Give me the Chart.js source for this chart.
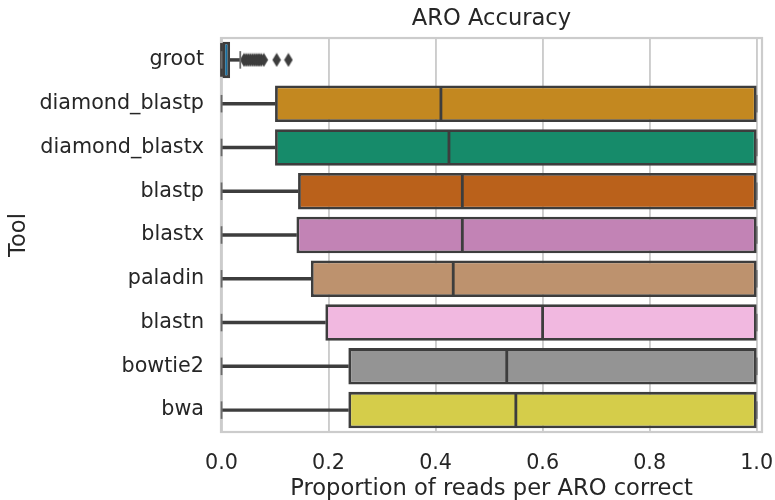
<!DOCTYPE html>
<html>
<head>
<meta charset="utf-8">
<script src="https://cdn.jsdelivr.net/npm/chart.js@4.4.1/dist/chart.umd.min.js"></script>
<style>
  html, body { margin: 0; padding: 0; background: #fff; }
  #wrap { width: 775px; height: 500px; }
</style>
</head>
<body>
<div id="wrap"><canvas id="chart" width="775" height="500"></canvas></div>
<script>
// box statistics per tool
const tools = ["groot", "diamond_blastp", "diamond_blastx", "blastp", "blastx", "paladin", "blastn", "bowtie2", "bwa"];
const whiskerLow = [0, 0, 0, 0, 0, 0, 0, 0, 0];
const q1 = [0, 0.100, 0.100, 0.143, 0.140, 0.167, 0.194, 0.237, 0.237];
const medians = [0, 0.410, 0.425, 0.450, 0.450, 0.433, 0.600, 0.533, 0.550];
const q3 = [0.016, 1, 1, 1, 1, 1, 1, 1, 1];
const whiskerHigh = [0.035, 1, 1, 1, 1, 1, 1, 1, 1];
const grootOutliers = [0.042, 0.046, 0.050, 0.054, 0.058, 0.062, 0.066, 0.070, 0.074, 0.079, 0.103, 0.125];
const xTicks = [0, 0.2, 0.4, 0.6, 0.8, 1.0];

const boxColors = ["#176d9c", "#c38820", "#168b6a", "#ba611b", "#c283b5", "#bd926e", "#f1b8e0", "#949494", "#d5cd4a"];
const lineColor = "#3d3d3d";
const textColor = "#262626";
const font = "'DejaVu Sans', sans-serif";

// thin diamond marker like matplotlib 'd'
function thinDiamond() {
    const c = document.createElement("canvas");
    c.width = 10;
    c.height = 15;
    const g = c.getContext("2d");
    g.fillStyle = lineColor;
    g.beginPath();
    g.moveTo(5, 0.5);
    g.lineTo(9.3, 7.5);
    g.lineTo(5, 14.5);
    g.lineTo(0.7, 7.5);
    g.closePath();
    g.fill();
    return c;
}

// frame round the plot area
const framePlugin = {
    id: "frame",
    beforeDatasetsDraw(chart) {
        const a = chart.chartArea;
        const ctx = chart.ctx;
        ctx.save();
        ctx.strokeStyle = "#cccccc";
        ctx.lineWidth = 2.2;
        ctx.strokeRect(a.left, a.top, a.right - a.left, a.bottom - a.top);
        ctx.restore();
    }
};

// medians and whisker caps
const boxPartsPlugin = {
    id: "boxParts",
    afterDatasetsDraw(chart) {
        const ctx = chart.ctx;
        const xs = chart.scales.x;
        const ys = chart.scales.y;
        const boxes = chart.getDatasetMeta(2).data;
        const step = ys.getPixelForValue(1) - ys.getPixelForValue(0);
        ctx.save();
        tools.forEach((t, i) => {
            const y = ys.getPixelForValue(i);
            const h = boxes[i].height / 2 - 1.4;
            ctx.strokeStyle = lineColor;
            ctx.lineWidth = 2.8;
            const mx = xs.getPixelForValue(medians[i]);
            ctx.beginPath();
            ctx.moveTo(mx, y - h);
            ctx.lineTo(mx, y + h);
            ctx.stroke();

            ctx.strokeStyle = "#6b6b6b";
            ctx.lineWidth = 1.8;
            [whiskerLow[i], whiskerHigh[i]].forEach(v => {
                const cx = xs.getPixelForValue(v);
                ctx.beginPath();
                ctx.moveTo(cx, y - step * 0.2);
                ctx.lineTo(cx, y + step * 0.2);
                ctx.stroke();
            });
        });
        ctx.restore();
    }
};

new Chart(document.getElementById("chart"), {
    type: "bar",
    data: {
        labels: tools,
        datasets: [
            {
                label: "lower whisker",
                data: whiskerLow.map((v, i) => [v, q1[i]]),
                backgroundColor: lineColor,
                borderWidth: 0,
                barThickness: 2.8,
                grouped: false,
                order: 3
            },
            {
                label: "upper whisker",
                data: q3.map((v, i) => [v, whiskerHigh[i]]),
                backgroundColor: lineColor,
                borderWidth: 0,
                barThickness: 2.8,
                grouped: false,
                order: 3
            },
            {
                label: "box",
                data: q1.map((v, i) => [v, q3[i]]),
                backgroundColor: boxColors,
                borderColor: lineColor,
                borderWidth: 2.8,
                borderSkipped: false,
                barPercentage: 0.834,
                categoryPercentage: 1,
                grouped: false,
                order: 2
            },
            {
                type: "scatter",
                label: "outliers",
                data: grootOutliers.map(v => ({ x: v, y: "groot" })),
                pointStyle: thinDiamond(),
                pointRadius: 5,
                order: 1
            }
        ]
    },
    options: {
        indexAxis: "y",
        responsive: false,
        animation: false,
        layout: { padding: { left: 0, right: 13, top: 0, bottom: 0 } },
        plugins: {
            legend: { display: false },
            tooltip: { enabled: false },
            title: {
                display: true,
                fullSize: false,
                text: "ARO Accuracy",
                color: textColor,
                font: { family: font, size: 22.6, weight: "normal" },
                padding: { top: 5.5, bottom: 5.4 }
            }
        },
        scales: {
            x: {
                type: "linear",
                min: -0.001,
                max: 1.01,
                afterBuildTicks(scale) {
                    scale.ticks = xTicks.map(v => ({ value: v }));
                },
                afterFit(scale) {
                    scale.height = 68;
                    scale.paddingLeft = 0;
                    scale.paddingRight = 0;
                },
                ticks: {
                    color: textColor,
                    font: { family: font, size: 20.7 },
                    padding: 19,
                    maxRotation: 0,
                    callback: v => v.toFixed(1)
                },
                grid: { color: "#cccccc", lineWidth: 1.9, drawTicks: false },
                border: { display: false },
                title: {
                    display: true,
                    text: "Proportion of reads per ARO correct",
                    color: textColor,
                    font: { family: font, size: 22.6 },
                    padding: { top: 0, bottom: -2.5 }
                }
            },
            y: {
                type: "category",
                afterFit(scale) {
                    scale.width = 221;
                },
                ticks: {
                    color: textColor,
                    font: { family: font, size: 20.7 },
                    padding: 17
                },
                grid: { display: false, drawTicks: false },
                border: { display: false },
                title: {
                    display: true,
                    text: "Tool",
                    color: textColor,
                    font: { family: font, size: 22.6 },
                    padding: { top: 6, bottom: 0 }
                }
            }
        }
    },
    plugins: [framePlugin, boxPartsPlugin]
});
</script>
</body>
</html>
